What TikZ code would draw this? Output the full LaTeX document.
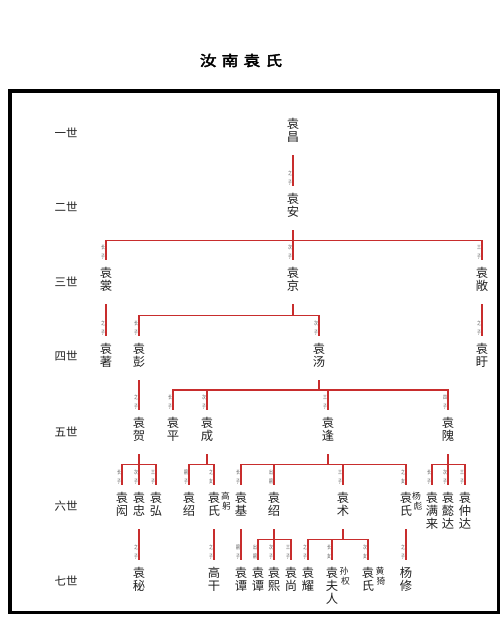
\documentclass[tikz,border=0pt]{standalone}
\usepackage{fontspec}
\newfontfamily\cjk{Noto Sans CJK SC}
\newfontfamily\cjkt{Noto Sans CJK SC}[FakeBold=3]
\usetikzlibrary{calc}
\definecolor{lnk}{RGB}{200,45,45}
\definecolor{nm}{RGB}{35,35,35}
\definecolor{tg}{RGB}{85,85,85}
\tikzset{
  person/.style={anchor=north, inner sep=0pt, align=center, font=\cjk\fontsize{12.3}{13}\selectfont, text=nm},
  genlabel/.style={inner sep=0pt, font=\cjk\fontsize{11.5}{12}\selectfont, text=nm},
  tagtext/.style={anchor=south east, inner sep=0pt, align=center, font=\cjk\fontsize{5.5}{9}\selectfont, text=tg, xscale=0.7},
  spouse/.style={anchor=north west, inner sep=0pt, align=left, font=\cjk\fontsize{8.8}{9.5}\selectfont, text=nm},
  link/.style={draw=lnk, line width=1.2pt, line cap=rect},
  frameline/.style={draw=black, line width=3.6pt},
}
\newcommand\famkid[3]{%
  \draw[link] (#1.north |- #3) -- ([yshift=8pt]#1.north);
  \node[tagtext] at ([xshift=-0.8pt,yshift=8pt]#1.north) {#2};}
\newcommand\famtop[4]{%
  \draw[link] ([yshift=-13pt]#1.south) -- (#1.south |- #2);
  \draw[link] (#3.north |- #2) -- (#4.north |- #2);}
\newcommand\solo[3]{%
  \draw[link] ([yshift=-13pt]#1.south) -- ([yshift=8pt]#2.north);
  \node[tagtext] at ([xshift=-0.8pt,yshift=8pt]#2.north) {#3};}
\begin{document}
\begin{tikzpicture}[x=1pt,y=-1pt]
\fill[white] (0,0) rectangle (500,643);
\useasboundingbox (0,0) rectangle (500,643);
\node[font=\cjkt\fontsize{14.5}{14.5}\selectfont, xscale=1.15, inner sep=0pt] (title) at (241,60.5) {汝\kern4.5pt 南\kern4.5pt 袁\kern4.5pt 氏};
\draw[frameline] (10,91) rectangle (498.5,612.5);
% generation labels
\node[genlabel] (g1) at (66,133) {一世};
\node[genlabel] (g2) at (66,207) {二世};
\node[genlabel] (g3) at (66,282) {三世};
\node[genlabel] (g4) at (66,356) {四世};
\node[genlabel] (g5) at (66,432) {五世};
\node[genlabel] (g6) at (66,506) {六世};
\node[genlabel] (g7) at (66,581) {七世};
% gen 1-2
\node[person] (chang) at (293,118) {袁\\昌};
\node[person] (an) at (293,193) {袁\\安};
% gen 3
\node[person] (shang) at (106,267) {袁\\裳};
\node[person] (jing) at (293,267) {袁\\京};
\node[person] (changc) at (482,267) {袁\\敞};
% gen 4
\node[person] (zhu) at (106,343) {袁\\著};
\node[person] (peng) at (139,343) {袁\\彭};
\node[person] (tang) at (319,343) {袁\\汤};
\node[person] (xu) at (482,343) {袁\\盱};
% gen 5
\node[person] (he) at (139,417) {袁\\贺};
\node[person] (ping) at (173,417) {袁\\平};
\node[person] (cheng) at (207,417) {袁\\成};
\node[person] (feng) at (328,417) {袁\\逢};
\node[person] (wei) at (448,417) {袁\\隗};
% gen 6
\node[person] (hong) at (122,492) {袁\\闳};
\node[person] (zhong) at (139,492) {袁\\忠};
\node[person] (hongb) at (156,492) {袁\\弘};
\node[person] (shaoa) at (189,492) {袁\\绍};
\node[person] (gshi) at (214,492) {袁\\氏};
\node[spouse] (gaogong) at (221,492) {高\\\kern1pt躬};
\node[person] (ji) at (241,492) {袁\\基};
\node[person] (shaob) at (274,492) {袁\\绍};
\node[person] (shu) at (343,492) {袁\\术};
\node[person] (yshi) at (406,492) {袁\\氏};
\node[spouse] (yangbiao) at (412,492) {杨\\\kern1.5pt彪};
\node[person] (manlai) at (432,492) {袁\\满\\来};
\node[person] (yida) at (448,492) {袁\\懿\\达};
\node[person] (zhongda) at (465,492) {袁\\仲\\达};
% gen 7
\node[person] (mi) at (139,567) {袁\\秘};
\node[person] (gaogan) at (214,567) {高\\干};
\node[person] (tana) at (241,567) {袁\\谭};
\node[person] (tanb) at (258,567) {袁\\谭};
\node[person] (xi) at (274,567) {袁\\熙};
\node[person] (shangb) at (291,567) {袁\\尚};
\node[person] (yao) at (308,567) {袁\\耀};
\node[person] (furen) at (332,567) {袁\\夫\\人};
\node[spouse] (sunquan) at (339.5,567) {孙\\\kern1.5pt权};
\node[person] (hshi) at (368,567) {袁\\氏};
\node[spouse] (huangyi) at (375.5,567) {黄\\\kern1pt猗};
\node[person] (yangxiu) at (406,567) {杨\\修};
% bar levels
\coordinate (bar3) at (0,240.5);
\coordinate (bar4) at (0,315.5);
\coordinate (bar5) at (0,390);
\coordinate (bar6) at (0,464.5);
\coordinate (bar7) at (0,539.5);
% single lines
\solo{chang}{an}{之\\子}
\solo{shang}{zhu}{之\\子}
\solo{changc}{xu}{之\\子}
\solo{peng}{he}{之\\子}
\solo{zhong}{mi}{之\\子}
\solo{gshi}{gaogan}{之\\子}
\solo{ji}{tana}{嗣\\子}
\solo{yshi}{yangxiu}{之\\子}
% families
\famtop{an}{bar3}{shang}{changc}
\famkid{shang}{长\\子}{bar3}
\famkid{jing}{次\\子}{bar3}
\famkid{changc}{三\\子}{bar3}
\famtop{jing}{bar4}{peng}{tang}
\famkid{peng}{长\\子}{bar4}
\famkid{tang}{次\\子}{bar4}
\famtop{tang}{bar5}{ping}{wei}
\famkid{ping}{长\\子}{bar5}
\famkid{cheng}{次\\子}{bar5}
\famkid{feng}{三\\子}{bar5}
\famkid{wei}{四\\子}{bar5}
\famtop{he}{bar6}{hong}{hongb}
\famkid{hong}{长\\子}{bar6}
\famkid{zhong}{次\\子}{bar6}
\famkid{hongb}{三\\子}{bar6}
\famtop{cheng}{bar6}{shaoa}{gshi}
\famkid{shaoa}{嗣\\子}{bar6}
\famkid{gshi}{之\\女}{bar6}
\famtop{feng}{bar6}{ji}{yshi}
\famkid{ji}{长\\子}{bar6}
\famkid{shaob}{出\\嗣}{bar6}
\famkid{shu}{三\\子}{bar6}
\famkid{yshi}{之\\女}{bar6}
\famtop{wei}{bar6}{manlai}{zhongda}
\famkid{manlai}{长\\子}{bar6}
\famkid{yida}{次\\子}{bar6}
\famkid{zhongda}{三\\子}{bar6}
\famtop{shaob}{bar7}{tanb}{shangb}
\famkid{tanb}{出\\嗣}{bar7}
\famkid{xi}{次\\子}{bar7}
\famkid{shangb}{三\\子}{bar7}
\famtop{shu}{bar7}{yao}{hshi}
\famkid{yao}{之\\子}{bar7}
\famkid{furen}{长\\女}{bar7}
\famkid{hshi}{次\\女}{bar7}
\end{tikzpicture}
\end{document}
